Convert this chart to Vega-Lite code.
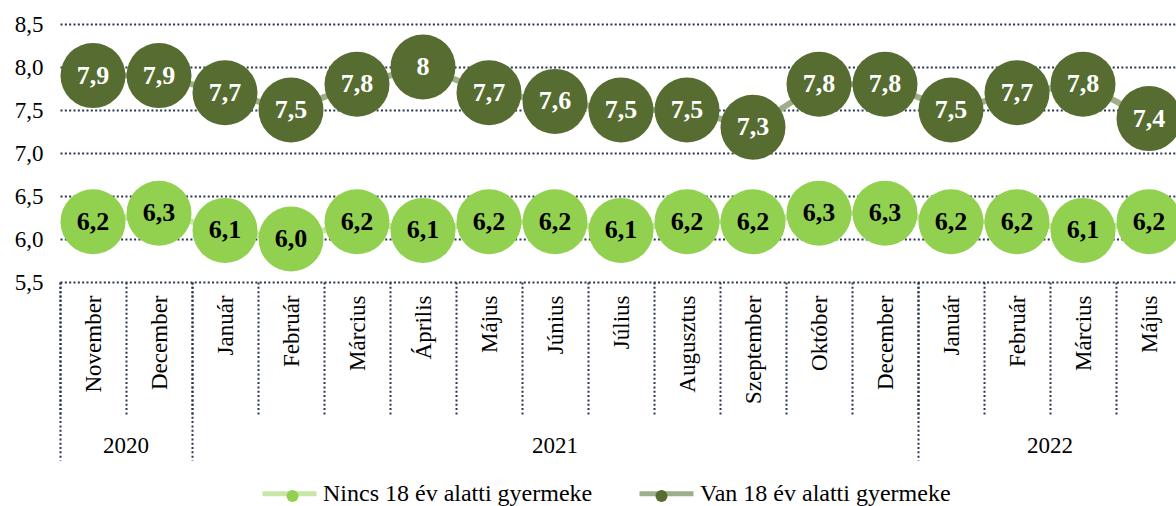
{
  "$schema": "https://vega.github.io/schema/vega-lite/v6.json",
  "width": 1122,
  "height": 258,
  "autosize": {"type": "none"},
  "padding": {"left": 60, "top": 24, "right": -6, "bottom": 224},
  "background": "white",
  "config": {"view": {"stroke": null}, "font": "Liberation Serif"},
  "data": {"values": [
    {"period": "2020 November", "series": "Nincs 18 év alatti gyermeke", "value": 6.2, "label": "6,2"},
    {"period": "2020 December", "series": "Nincs 18 év alatti gyermeke", "value": 6.3, "label": "6,3"},
    {"period": "2021 Január", "series": "Nincs 18 év alatti gyermeke", "value": 6.1, "label": "6,1"},
    {"period": "2021 Február", "series": "Nincs 18 év alatti gyermeke", "value": 6.0, "label": "6,0"},
    {"period": "2021 Március", "series": "Nincs 18 év alatti gyermeke", "value": 6.2, "label": "6,2"},
    {"period": "2021 Április", "series": "Nincs 18 év alatti gyermeke", "value": 6.1, "label": "6,1"},
    {"period": "2021 Május", "series": "Nincs 18 év alatti gyermeke", "value": 6.2, "label": "6,2"},
    {"period": "2021 Június", "series": "Nincs 18 év alatti gyermeke", "value": 6.2, "label": "6,2"},
    {"period": "2021 Július", "series": "Nincs 18 év alatti gyermeke", "value": 6.1, "label": "6,1"},
    {"period": "2021 Augusztus", "series": "Nincs 18 év alatti gyermeke", "value": 6.2, "label": "6,2"},
    {"period": "2021 Szeptember", "series": "Nincs 18 év alatti gyermeke", "value": 6.2, "label": "6,2"},
    {"period": "2021 Október", "series": "Nincs 18 év alatti gyermeke", "value": 6.3, "label": "6,3"},
    {"period": "2021 December", "series": "Nincs 18 év alatti gyermeke", "value": 6.3, "label": "6,3"},
    {"period": "2022 Január", "series": "Nincs 18 év alatti gyermeke", "value": 6.2, "label": "6,2"},
    {"period": "2022 Február", "series": "Nincs 18 év alatti gyermeke", "value": 6.2, "label": "6,2"},
    {"period": "2022 Március", "series": "Nincs 18 év alatti gyermeke", "value": 6.1, "label": "6,1"},
    {"period": "2022 Május", "series": "Nincs 18 év alatti gyermeke", "value": 6.2, "label": "6,2"},
    {"period": "2020 November", "series": "Van 18 év alatti gyermeke", "value": 7.9, "label": "7,9"},
    {"period": "2020 December", "series": "Van 18 év alatti gyermeke", "value": 7.9, "label": "7,9"},
    {"period": "2021 Január", "series": "Van 18 év alatti gyermeke", "value": 7.7, "label": "7,7"},
    {"period": "2021 Február", "series": "Van 18 év alatti gyermeke", "value": 7.5, "label": "7,5"},
    {"period": "2021 Március", "series": "Van 18 év alatti gyermeke", "value": 7.8, "label": "7,8"},
    {"period": "2021 Április", "series": "Van 18 év alatti gyermeke", "value": 8.0, "label": "8"},
    {"period": "2021 Május", "series": "Van 18 év alatti gyermeke", "value": 7.7, "label": "7,7"},
    {"period": "2021 Június", "series": "Van 18 év alatti gyermeke", "value": 7.6, "label": "7,6"},
    {"period": "2021 Július", "series": "Van 18 év alatti gyermeke", "value": 7.5, "label": "7,5"},
    {"period": "2021 Augusztus", "series": "Van 18 év alatti gyermeke", "value": 7.5, "label": "7,5"},
    {"period": "2021 Szeptember", "series": "Van 18 év alatti gyermeke", "value": 7.3, "label": "7,3"},
    {"period": "2021 Október", "series": "Van 18 év alatti gyermeke", "value": 7.8, "label": "7,8"},
    {"period": "2021 December", "series": "Van 18 év alatti gyermeke", "value": 7.8, "label": "7,8"},
    {"period": "2022 Január", "series": "Van 18 év alatti gyermeke", "value": 7.5, "label": "7,5"},
    {"period": "2022 Február", "series": "Van 18 év alatti gyermeke", "value": 7.7, "label": "7,7"},
    {"period": "2022 Március", "series": "Van 18 év alatti gyermeke", "value": 7.8, "label": "7,8"},
    {"period": "2022 Május", "series": "Van 18 év alatti gyermeke", "value": 7.4, "label": "7,4"}
  ]},
  "layer": [
    {
      "mark": {"type": "line", "strokeWidth": 6},
      "encoding": {
        "x": {"field": "period", "type": "nominal", "sort": null,
          "scale": {"paddingInner": 0, "paddingOuter": 0},
          "axis": {"orient": "bottom", "title": null, "domain": false, "labels": false,
            "values": ["2020 November", "2021 Január", "2022 Január"],
            "bandPosition": 0, "tickSize": 178, "tickWidth": 2, "tickColor": "#2A3650", "tickDash": [2, 2.33]}},
        "y": {"field": "value", "type": "quantitative", "scale": {"domain": [5.5, 8.5], "nice": false, "zero": false}},
        "stroke": {"field": "series", "type": "nominal",
          "scale": {"range": ["#C8E6A6", "#9EAE88"]},
          "legend": {"orient": "none", "legendX": 200, "legendY": 440, "direction": "horizontal", "title": null,
            "symbolType": "stroke", "symbolSize": 2916, "symbolStrokeWidth": 5,
            "labelFontSize": 24, "labelFont": "Liberation Serif", "labelColor": "black",
            "labelOffset": 4, "columnPadding": 36, "labelLimit": 0}}
      }
    },
    {
      "mark": {"type": "point", "filled": true, "size": 4225, "opacity": 1, "strokeWidth": 0},
      "encoding": {
        "x": {"field": "period", "type": "nominal", "sort": null,
          "scale": {"paddingInner": 0, "paddingOuter": 0},
          "axis": {"orient": "bottom", "title": null, "domain": false, "tickBand": "extent", "tickSize": 133, "tickWidth": 2,
            "tickColor": "#2A3650", "tickDash": [2, 2.33],
            "labelAngle": -90, "labelAlign": "right", "labelBaseline": "middle", "labelPadding": -120,
            "labelFontSize": 23, "labelFont": "Liberation Serif", "labelColor": "black",
            "labelExpr": "split(datum.label, ' ')[1]", "labelOverlap": false}},
        "y": {"field": "value", "type": "quantitative", "scale": {"domain": [5.5, 8.5], "nice": false, "zero": false},
          "axis": {"title": null, "domain": false, "ticks": false, "values": [5.5, 6, 6.5, 7, 7.5, 8, 8.5],
            "grid": true, "gridDash": [2, 2.33], "gridWidth": 2, "gridColor": "#2A3650",
            "labelFontSize": 23, "labelFont": "Liberation Serif", "labelColor": "black", "labelPadding": 17,
            "labelFlush": false, "labelOverlap": false,
            "labelExpr": "replace(format(datum.value, '.1f'), '.', ',')"}},
        "fill": {"field": "series", "type": "nominal",
          "scale": {"range": ["#92D050", "#566C30"]},
          "legend": {"orient": "none", "legendX": 205, "legendY": 460, "direction": "horizontal", "title": null,
            "symbolType": "circle", "symbolSize": 144, "symbolStrokeWidth": 0, "symbolOffset": 15.5,
            "labelOffset": 51, "labelFontSize": 24, "labelFont": "Liberation Serif", "labelOpacity": 0,
            "columnPadding": 9, "zindex": 1, "labelLimit": 0}}
      }
    },
    {
      "mark": {"type": "text", "fontWeight": "bold", "fontSize": 26, "font": "Liberation Serif", "baseline": "middle", "align": "center"},
      "encoding": {
        "x": {"field": "period", "type": "nominal", "sort": null,
          "scale": {"paddingInner": 0, "paddingOuter": 0},
          "axis": {"orient": "bottom", "title": null, "domain": false, "ticks": false, "tickSize": 0,
            "values": ["2020 December", "2021 Június", "2022 Március"],
            "labelOffset": {"condition": {"test": "datum.value === '2021 Június'", "value": 0}, "value": -33},
            "labelExpr": "split(datum.label, ' ')[0]",
            "labelAngle": 0, "labelAlign": "center", "labelBaseline": "top", "labelPadding": 152,
            "labelFontSize": 23, "labelFont": "Liberation Serif", "labelColor": "black"}},
        "y": {"field": "value", "type": "quantitative", "scale": {"domain": [5.5, 8.5], "nice": false, "zero": false}},
        "text": {"field": "label", "type": "nominal"},
        "color": {"condition": {"test": "datum.series === 'Van 18 év alatti gyermeke'", "value": "white"}, "value": "black"}
      }
    }
  ],
  "resolve": {"axis": {"x": "independent"}}
}
